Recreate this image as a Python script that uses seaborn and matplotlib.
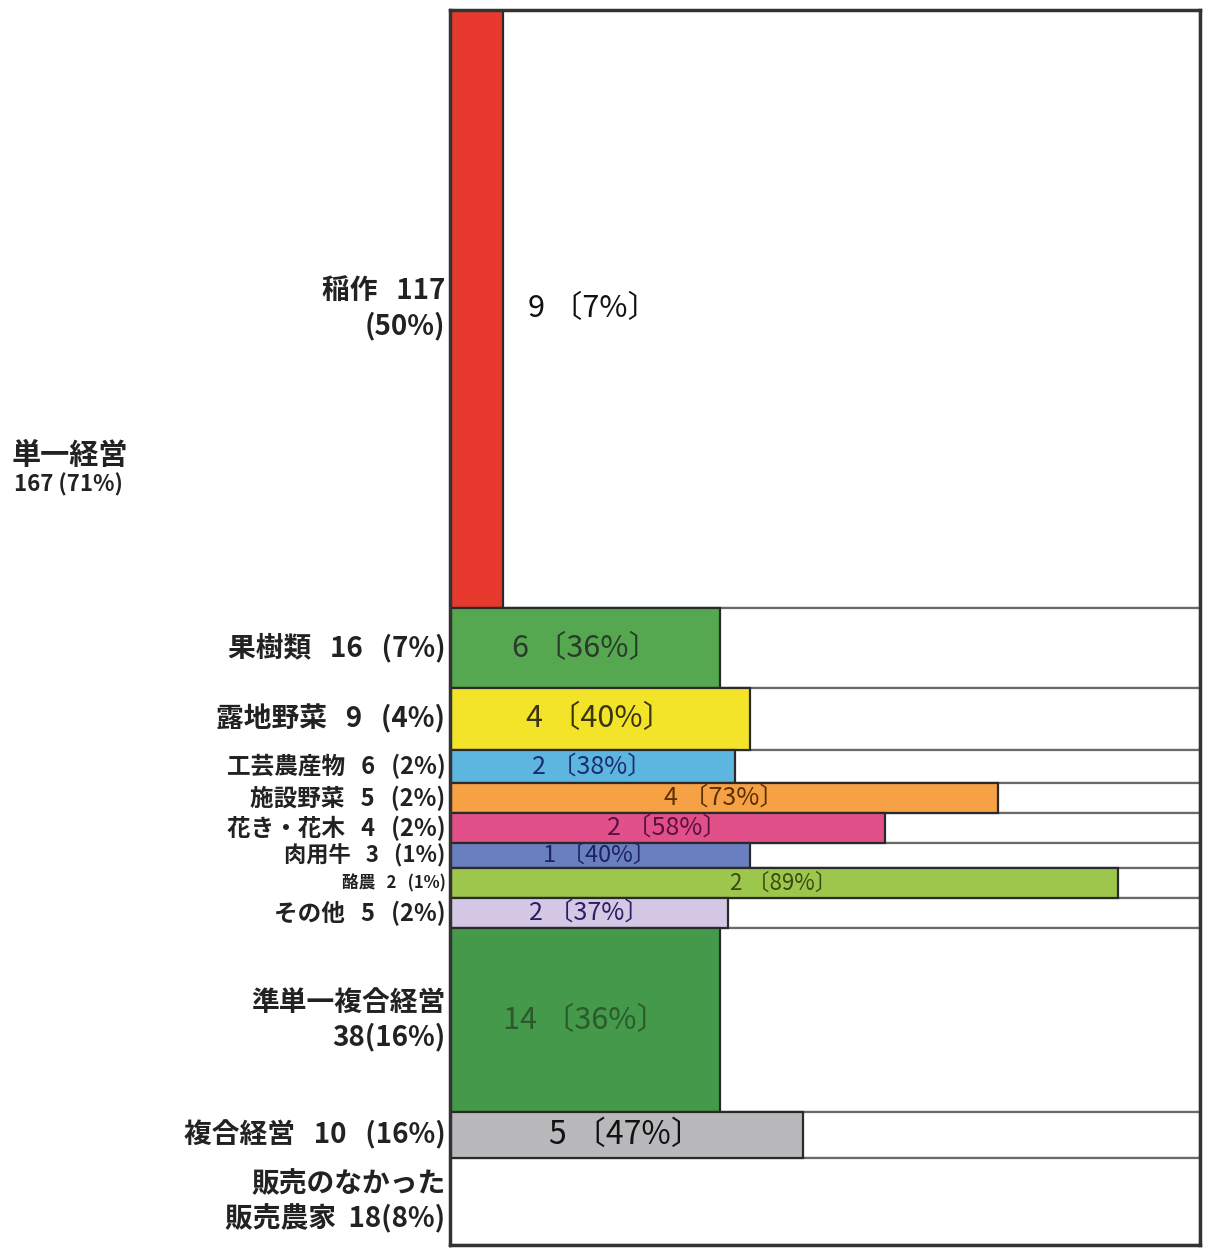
import matplotlib
matplotlib.use("Agg")
import matplotlib.pyplot as plt
import numpy as np
import pandas as pd
import seaborn as sns

# ---------------- data ----------------
categories = ["稲作", "果樹類", "露地野菜", "工芸農産物", "施設野菜", "花き・花木",
              "肉用牛", "酪農", "その他", "準単一複合経営", "複合経営", "販売なし"]
row_labels = ["稲作   117\n(50%)", "果樹類   16   (7%)", "露地野菜   9   (4%)",
              "工芸農産物   6   (2%)", "施設野菜   5   (2%)", "花き・花木   4   (2%)",
              "肉用牛   3   (1%)", "酪農   2   (1%)", "その他   5   (2%)",
              "準単一複合経営\n38(16%)", "複合経営   10   (16%)",
              "販売のなかった\n販売農家  18(8%)"]
share_pct = [7, 36, 40, 38, 73, 58, 40, 89, 37, 36, 47, 0]
bar_labels = ["9 〔7%〕", "6 〔36%〕", "4 〔40%〕", "2 〔38%〕", "4 〔73%〕", "2 〔58%〕",
              "1 〔40%〕", "2 〔89%〕", "2 〔37%〕", "14 〔36%〕", "5 〔47%〕", ""]
group_label = "単一経営"
group_value = "167 (71%)"

# ---------------- style / layout ----------------
row_span = [598, 80, 62, 33, 30, 30, 25, 30, 30, 184, 46, 87]
colors = ["#e8392f", "#55a84f", "#f3e42a", "#5db6df", "#f7a145", "#e2508a",
          "#6a7fbf", "#9cc64c", "#d4c8e6", "#44994a", "#b9b9bb", "#ffffff"]
text_colors = ["#111111", "#2b3b2b", "#3a3410", "#1c2c6c", "#5a3000", "#5a1040",
               "#1c2460", "#3b4a10", "#2a2060", "#2d5a2d", "#111111", "#111111"]
bar_fs = [22, 22, 22, 18, 18, 18, 17, 16, 18, 22, 23, 12]
left_fs = [20, 20, 20, 17, 17, 17, 16, 12, 17, 20, 20, 20]

sns.set_theme(style="white")
plt.rcParams["font.family"] = ["Noto Sans CJK JP", "DejaVu Sans"]

fig = plt.figure(figsize=(12.05, 12.49), dpi=100)
W, H = 1205, 1249
ax = fig.add_axes([450 / W, (H - 1245) / H, 750 / W, 1235 / H])

edges = np.concatenate([[0], np.cumsum(row_span)])
centers = (edges[:-1] + edges[1:]) / 2
total = edges[-1]

# white full-width row boxes
ax.barh(centers, [100] * len(categories), height=row_span, left=0,
        color="white", edgecolor="#6a6a6a", linewidth=1.6, zorder=1)

df = pd.DataFrame({"cat": categories, "pct": share_pct, "center": centers})
n_before = len(ax.patches)
sns.barplot(data=df, x="pct", y="center", hue="cat", palette=dict(zip(categories, colors)),
            orient="h", native_scale=True, dodge=False, legend=False, saturation=1,
            edgecolor="#2a2a2a", linewidth=1.6, ax=ax, zorder=2)
for p in ax.patches[n_before:]:
    yc = p.get_y() + p.get_height() / 2
    i = int(np.argmin(np.abs(centers - yc)))
    p.set_y(edges[i])
    p.set_height(row_span[i])

ax.set_xlim(0, 100)
ax.set_ylim(total, 0)
ax.set_xticks([])
ax.set_yticks([])
ax.set_xlabel("")
ax.set_ylabel("")
for s in ax.spines.values():
    s.set_visible(True)
    s.set_color("#333333")
    s.set_linewidth(2.5)

# bar texts
for i, lab in enumerate(bar_labels):
    if not lab:
        continue
    x = share_pct[i] / 2 if share_pct[i] >= 15 else share_pct[i] + 12
    ax.text(x, centers[i], lab, ha="center", va="center", fontsize=bar_fs[i],
            color=text_colors[i], zorder=5)

# left labels
for i, lab in enumerate(row_labels):
    ax.text(-0.006, centers[i], lab, transform=ax.get_yaxis_transform(),
            ha="right", va="center", fontsize=left_fs[i], fontweight="bold",
            color="#222222", linespacing=1.25)

fig.text(70 / W, 1 - 455 / H, group_label, ha="center", va="center",
         fontsize=21, fontweight="bold", color="#222222")
fig.text(68 / W, 1 - 485 / H, group_value, ha="center", va="center",
         fontsize=16, fontweight="bold", color="#222222")

fig.savefig("out.png", dpi=100, facecolor="white")
